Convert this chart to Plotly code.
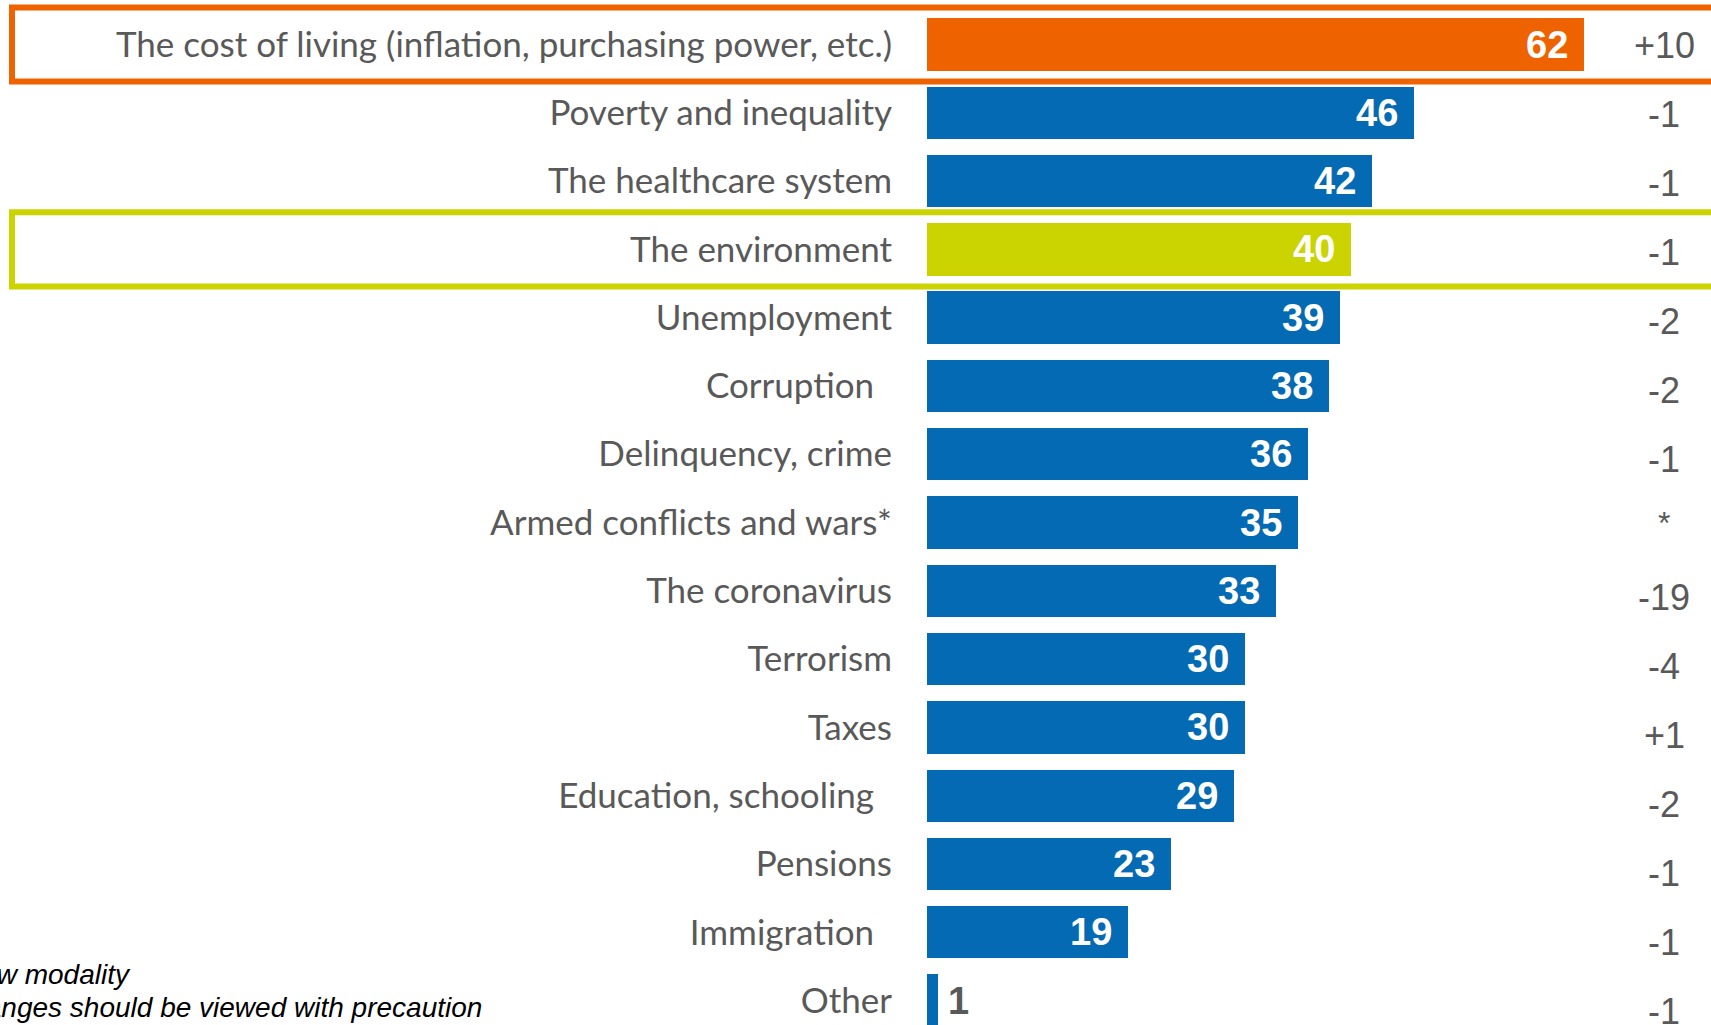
import plotly.graph_objects as go

# Survey data: share of respondents citing each concern (%), and change vs. previous wave
categories = [
    "The cost of living (inflation, purchasing power, etc.)",
    "Poverty and inequality",
    "The healthcare system",
    "The environment",
    "Unemployment",
    "Corruption\u00a0\u00a0",
    "Delinquency, crime",
    "Armed conflicts and wars*",
    "The coronavirus",
    "Terrorism",
    "Taxes",
    "Education, schooling\u00a0\u00a0",
    "Pensions",
    "Immigration\u00a0\u00a0",
    "Other",
]
values = [62, 46, 42, 40, 39, 38, 36, 35, 33, 30, 30, 29, 23, 19, 1]
changes = ["+10", "-1", "-1", "-1", "-2", "-2", "-1", "*", "-19", "-4", "+1", "-2", "-1", "-1", "-1"]
footnotes = ["*New modality", "Changes should be viewed with precaution"]

ORANGE = "#EE6300"
BLUE = "#036AB3"
GREEN = "#CBD300"
GREY = "#595959"

highlight = {0: ORANGE, 3: GREEN}
rows = list(range(len(categories)))
bar_colors = [highlight.get(i, BLUE) for i in rows]

W, H = 1711, 1025
LEFT = 927            # pixel where the bars start
PX_PER_UNIT = 10.59   # horizontal scale
ROW_PX = 68.29        # vertical distance between rows
FIRST_ROW_PX = 44.5   # centre of the first row

x_max = (W - LEFT) / PX_PER_UNIT
y_top = -FIRST_ROW_PX / ROW_PX
y_bottom = y_top + H / ROW_PX

fig = go.Figure()
fig.add_trace(go.Bar(
    x=values,
    y=rows,
    orientation="h",
    width=0.767,
    marker=dict(color=bar_colors, line=dict(width=0)),
    hoverinfo="skip",
))

annotations = []
# value labels at the end of each bar
for i, v in enumerate(values):
    inside = v >= 5
    annotations.append(dict(
        x=v, y=i, xref="x", yref="y",
        text="<b>" + str(v) + "</b>",
        showarrow=False,
        xanchor="right" if inside else "left",
        xshift=-14 if inside else 8,
        yshift=0,
        font=dict(family="Liberation Sans, Arial", size=38,
                  color="white" if inside else GREY),
    ))

# change column on the right
CHANGE_X = 69.6
for i, c in enumerate(changes):
    star = c == "*"
    annotations.append(dict(
        x=CHANGE_X, y=i * 1.0103, xref="x", yref="y",
        text=c,
        showarrow=False,
        xanchor="center",
        yshift=4 if star else -1,
        font=dict(family="Liberation Sans, Arial", size=32 if star else 36, color=GREY),
    ))

# footnotes, anchored slightly left of the page edge
for k, note in enumerate(footnotes):
    annotations.append(dict(
        x=(-52 - LEFT) / (W - LEFT), y=1 - (974.5 + 32.5 * k) / H,
        xref="paper", yref="paper",
        text="<i>" + note + "</i>",
        showarrow=False,
        xanchor="left", yanchor="middle",
        font=dict(family="Liberation Sans, Arial", size=28, color="black"),
    ))

# highlight frames around the first and fourth rows
shapes = []
for i, col in highlight.items():
    shapes.append(dict(
        type="rect",
        xref="paper", yref="y",
        x0=(12 - LEFT) / (W - LEFT), x1=1.05,
        y0=i - 0.542, y1=i + 0.542,
        line=dict(color=col, width=6),
        fillcolor="rgba(0,0,0,0)",
        layer="above",
    ))

fig.update_layout(
    width=W, height=H,
    margin=dict(l=LEFT, r=0, t=0, b=0),
    paper_bgcolor="white",
    plot_bgcolor="white",
    showlegend=False,
    bargap=0,
    annotations=annotations,
    shapes=shapes,
    xaxis=dict(range=[0, x_max], visible=False, fixedrange=True),
    yaxis=dict(
        range=[y_bottom, y_top],
        tickmode="array",
        tickvals=rows,
        ticktext=categories,
        showgrid=False, zeroline=False, showline=False,
        ticks="",
        ticklabelstandoff=34,
        tickfont=dict(family="Lato, sans-serif", size=35, color=GREY),
        fixedrange=True,
    ),
)

fig.write_html("out.html", config={"displayModeBar": False})
